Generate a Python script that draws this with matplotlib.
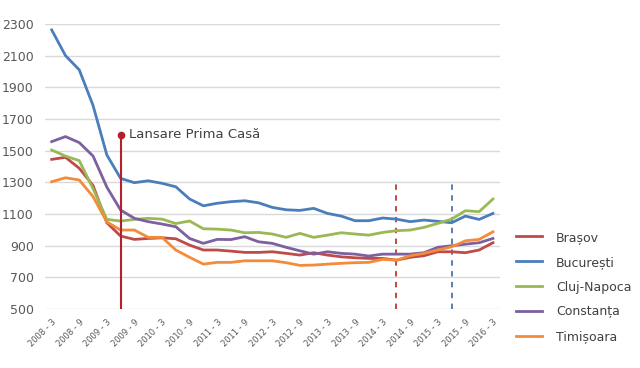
import matplotlib.pyplot as plt

# === DATE (preturi trimestriale, EUR/mp) ===
perioade = [f"{an} - {luna}" for an in range(2008, 2017) for luna in (3, 6, 9, 12)][:33]

brasov = [1445, 1458, 1389, 1280, 1045, 961, 940, 946, 950, 944, 904, 873, 873,
          866, 858, 858, 862, 852, 841, 856, 841, 830, 824, 820, 820, 809, 827,
          837, 862, 862, 856, 873, 919]
bucuresti = [2262, 2100, 2010, 1785, 1473, 1325, 1298, 1310, 1294, 1272, 1195,
             1152, 1168, 1178, 1184, 1171, 1142, 1127, 1123, 1136, 1104, 1087,
             1058, 1058, 1075, 1068, 1052, 1062, 1054, 1045, 1087, 1066, 1104]
cluj = [1504, 1466, 1437, 1260, 1066, 1056, 1066, 1073, 1068, 1040, 1056, 1007,
        1005, 999, 982, 984, 974, 953, 978, 953, 967, 982, 974, 967, 984, 995,
        999, 1016, 1041, 1068, 1121, 1115, 1195]
constanta = [1557, 1589, 1551, 1466, 1270, 1125, 1073, 1052, 1037, 1020, 946,
             915, 940, 939, 957, 925, 915, 890, 868, 847, 862, 852, 847, 835,
             847, 847, 847, 856, 890, 900, 910, 919, 946]
timisoara = [1304, 1329, 1315, 1210, 1050, 999, 999, 953, 953, 873, 827, 784,
             795, 795, 805, 805, 805, 793, 776, 778, 784, 789, 793, 795, 814,
             809, 837, 852, 873, 893, 931, 940, 988]

serii = {
    "Brașov": (brasov, "#BE4B48"),
    "București": (bucuresti, "#4A7EBB"),
    "Cluj-Napoca": (cluj, "#98B954"),
    "Constanța": (constanta, "#7D60A0"),
    "Timișoara": (timisoara, "#F38B3A"),
}

idx_prima_casa = 5
idx_linii = [(25, "#C0392B"), (29, "#4F73A8")]

# === PLOT ===
fig = plt.figure(figsize=(6.4, 3.68), dpi=100)
ax = fig.add_axes([0.070, 0.160, 0.711, 0.775])

x = list(range(len(perioade)))
for nume, (vals, col) in serii.items():
    ax.plot(x, vals, color=col, lw=2, label=nume, zorder=3)

# linie verticala Prima Casa
ax.plot([idx_prima_casa, idx_prima_casa], [500, 1600], color="#B5202E", lw=1.5, zorder=4)
ax.plot([idx_prima_casa], [1600], "o", color="#B5202E", ms=4.5, zorder=5)
ax.text(idx_prima_casa + 0.6, 1600, "Lansare Prima Casă", fontsize=9.5,
        color="#404040", va="center", ha="left")

for i, col in idx_linii:
    ax.plot([i, i], [500, 1300], color=col, lw=1.3, ls=(0, (3, 3)), zorder=2)

ax.set_xlim(-0.5, len(perioade) - 0.5)
ax.set_ylim(500, 2300)
ax.set_yticks(range(500, 2301, 200))
ax.set_xticks(x[::2])
ax.set_xticklabels(perioade[::2], rotation=45, ha="right", va="top",
                   rotation_mode="anchor", fontsize=6, color="#595959")
ax.tick_params(axis="y", labelsize=9, colors="#595959", length=0, pad=8)
ax.tick_params(axis="x", length=0, pad=6)
ax.grid(axis="y", color="#D9D9D9", lw=1)
ax.set_axisbelow(True)
for s in ax.spines.values():
    s.set_visible(False)

ax.legend(loc="center left", bbox_to_anchor=(0.806, 0.22), bbox_transform=fig.transFigure,
          frameon=False, fontsize=9, handlelength=2.1, handletextpad=1.1,
          borderpad=0, borderaxespad=0, labelspacing=0.95, labelcolor="#404040")

fig.savefig("out.png", dpi=100)
